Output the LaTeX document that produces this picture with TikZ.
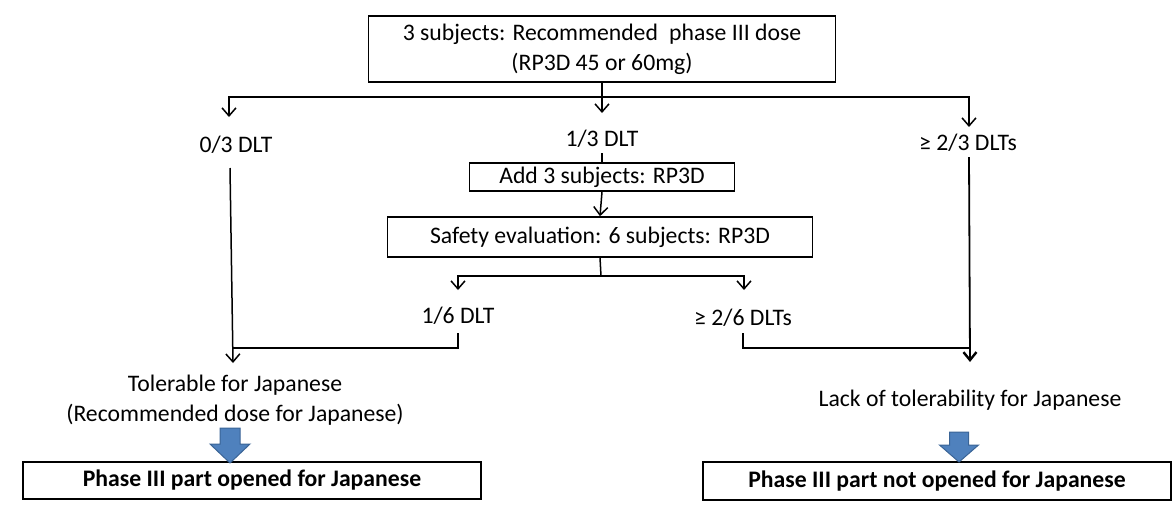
\documentclass[tikz,border=0pt]{standalone}
\usepackage{fontspec}
\setmainfont{Carlito}
\usetikzlibrary{arrows.meta}
\definecolor{bluefill}{HTML}{4F81BD}
\definecolor{blueedge}{HTML}{3A6496}
\tikzset{
  box/.style={draw, line width=1.6pt, inner sep=0pt, align=center},
  lbl/.style={inner sep=0pt, align=center},
  conn/.style={line width=1.5pt},
  arr/.style={conn, -{Straight Barb[length=8pt,width=14pt,line width=1.5pt]}},
  fatarr/.style={line width=1.8pt, -{Straight Barb[length=8pt,width=13pt,line width=2.4pt]}},
  bluearrow/.style={fill=bluefill, draw=blueedge, line width=1pt, line join=miter}
}
\begin{document}
\begin{tikzpicture}[x=1pt,y=1pt,font=\fontsize{23.7}{30}\selectfont]
\useasboundingbox (0,0) rectangle (1174,-507);

% boxes
\node[box, minimum width=467pt, minimum height=66pt] (top) at (602,-49)
  {3 subjects: Recommended\hspace{0.25em} phase III dose\\(RP3D 45 or 60mg)};
\node[box, minimum width=265pt, minimum height=28pt] (add) at (602,-177)
  {Add 3 subjects: RP3D};
\node[box, minimum width=425pt, minimum height=40pt] (safe) at (600,-237)
  {Safety evaluation: 6 subjects: RP3D};
\node[box, minimum width=458pt, minimum height=37pt] (bl) at (252,-480.5)
  {\bfseries Phase III part opened for Japanese};
\node[box, minimum width=468pt, minimum height=38pt] (br) at (937,-481)
  {\bfseries Phase III part not opened for Japanese};

% labels
\node[lbl] (l03) at (236,-145) {0/3 DLT};
\node[lbl] (l13) at (602,-139) {1/3 DLT};
\node[lbl] (l23) at (968,-143) {≥ 2/3 DLTs};
\node[lbl] (l16) at (458,-316) {1/6 DLT};
\node[lbl] (l26) at (743,-318) {≥ 2/6 DLTs};
\node[lbl] (tol) at (235,-400) {Tolerable for Japanese\\(Recommended dose for Japanese)};
\node[lbl] (lack) at (970,-400) {Lack of tolerability for Japanese};

% coordinates
\coordinate (b1) at (602,-97);
\coordinate (t03) at (229,-117);
\coordinate (t13) at (602,-113);
\coordinate (t23) at (969,-127);
\coordinate (s13) at (602,-153);
\coordinate (b2) at (601,-276);
\coordinate (t16) at (458,-290);
\coordinate (t26) at (744,-290);
\coordinate (s03) at (230,-168);
\coordinate (e03) at (233,-363);
\coordinate (s16) at (458,-333);
\coordinate (j1) at (233,-348);
\coordinate (s23) at (969,-157);
\coordinate (e23) at (970,-362);
\coordinate (s26) at (743,-333);
\coordinate (j2) at (970,-348);

% connectors
\draw[conn] (top.south) -- (b1);
\draw[arr] (b1) -| (t03);
\draw[arr] (b1) -- (t13);
\draw[arr] (b1) -| (t23);
\draw[conn] (s13) -- (add.north);
\draw[arr] (add.south) -- (safe.north);
\draw[conn] (safe.south) -- (b2);
\draw[arr] (b2) -| (t16);
\draw[arr] (b2) -| (t26);
\draw[arr] (s03) -- (e03);
\draw[conn] (s16) |- (j1);
\draw[fatarr] (s23) -- (e23);
\draw[conn] (s26) |- (j2);

% blue block arrows
\draw[bluearrow] (220,-428) -- ++(20,0) -- ++(0,-16) -- ++(10,0) -- ++(-20,-19)
  -- ++(-20,19) -- ++(10,0) -- cycle;
\draw[bluearrow] (949.5,-432) -- ++(19,0) -- ++(0,-13) -- ++(10,0) -- ++(-19.5,-17)
  -- ++(-19.5,17) -- ++(10,0) -- cycle;
\end{tikzpicture}
\end{document}
